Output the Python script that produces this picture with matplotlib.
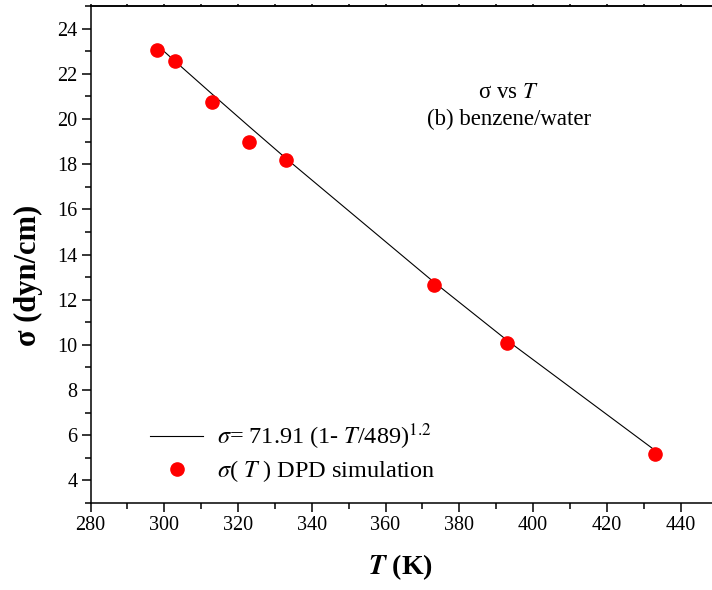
import numpy as np
import matplotlib.pyplot as plt
from matplotlib.ticker import MultipleLocator, NullFormatter

plt.rcParams['font.family'] = ['Liberation Serif', 'DejaVu Serif']
plt.rcParams['mathtext.fontset'] = 'stix'

# DPD simulation results, benzene/water
temps = np.array([298, 303, 313, 323, 333, 373, 393, 433])
sigma = np.array([23.07, 22.55, 20.74, 19.0, 18.2, 12.67, 10.09, 5.18])

# fit: sigma = A (1 - T/Tc)^n
fit_A = 71.91
fit_Tc = 489.0
fit_n = 1.2
sigma_fit = fit_A * (1 - temps / fit_Tc) ** fit_n

fig = plt.figure(figsize=(7.12, 5.90), dpi=100)
# axes run past the right edge of the figure
ax = fig.add_axes([90.5 / 712, 87 / 590, 627 / 712, 497 / 590])

ax.plot(temps, sigma_fit, '-', color='black', lw=0.8,
        label=r'$\sigma$= 71.91 (1- $T$/489)$^{1.2}$')
ax.plot(temps, sigma, 'o', color='red', ms=9.5, mec='red',
        label=r'$\sigma$( $T$ ) DPD simulation')

ax.set_xlim(280, 450)
ax.set_ylim(3, 25)
ax.xaxis.set_major_locator(MultipleLocator(20))
ax.xaxis.set_minor_locator(MultipleLocator(10))
ax.yaxis.set_major_locator(MultipleLocator(2))
ax.yaxis.set_minor_locator(MultipleLocator(1))

ax.tick_params(which='both', direction='out', top=False, right=False,
               labelsize=14.5, width=1.1)
ax.tick_params(which='major', length=6.5, pad=3)
ax.tick_params(which='minor', length=4)
for sp in ax.spines.values():
    sp.set_linewidth(1.1)
ax.spines['right'].set_visible(False)

# short ticks along the top edge
top = ax.secondary_xaxis('top')
top.xaxis.set_major_locator(MultipleLocator(10))
top.xaxis.set_major_formatter(NullFormatter())
top.tick_params(direction='out', length=1.5, width=1.1)
top.spines['top'].set_linewidth(1.1)

ax.set_xlabel(r'$\boldsymbol{T}$ (K)', fontsize=20, fontweight='bold')
ax.xaxis.set_label_coords((400 - 90.5) / 627, (503 - 567) / 497)
ax.xaxis.label.set_va('center')
ax.set_ylabel('σ (dyn/cm)', fontsize=22, fontweight='bold')
ax.yaxis.set_label_coords((28 - 90.5) / 627, (503 - 275) / 497)
ax.yaxis.label.set_va('center')

fig.text(508 / 712, 1 - 92 / 590, r'σ vs $T$', fontsize=16.5,
         ha='center', va='center')
fig.text(509 / 712, 1 - 119 / 590, '(b) benzene/water', fontsize=16.5,
         ha='center', va='center')

ax.legend(loc='lower left', bbox_to_anchor=((150 - 90.5) / 627, (503 - 484) / 497),
          frameon=False, fontsize=17.5, handlelength=2.2, handletextpad=0.55,
          labelspacing=0.25, borderaxespad=0, borderpad=0)

fig.savefig('out.png', dpi=100)
